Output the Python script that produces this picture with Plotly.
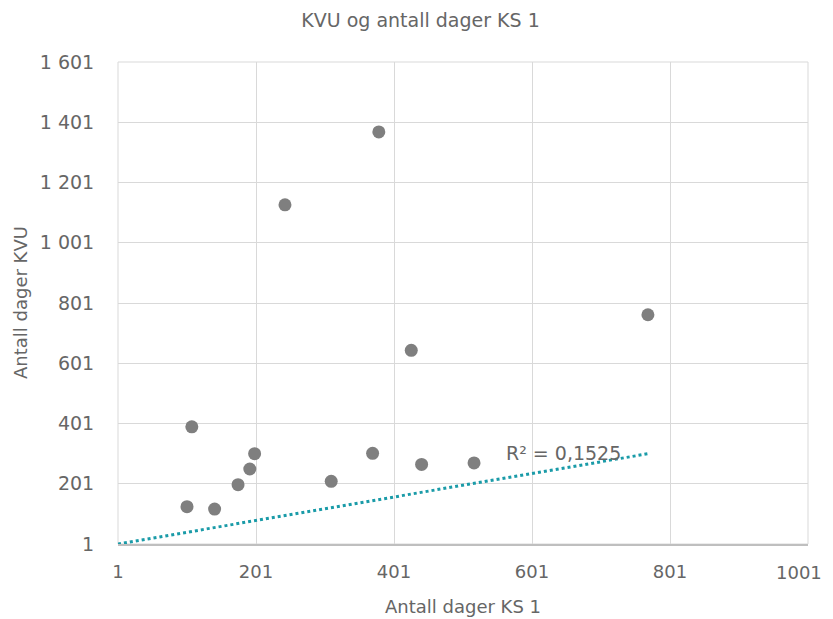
import plotly.graph_objects as go

ks1_days = [101, 108, 141, 175, 192, 199, 243, 310, 370, 379, 426, 441, 517, 769]
kvu_days = [125, 390, 117, 198, 250, 301, 1127, 209, 302, 1369, 644, 265, 270, 762]

trend_x = [1, 770]
trend_y = [1, 301]
r2_label = "R² = 0,1525"

x_ticks = [1, 201, 401, 601, 801, 1001]
x_tick_text = ["1", "201", "401", "601", "801", "1001"]
y_ticks = [1, 201, 401, 601, 801, 1001, 1201, 1401, 1601]
y_tick_text = ["1", "201", "401", "601", "801", "1 001", "1 201", "1 401", "1 601"]

FONT = "DejaVu Sans, sans-serif"
TXT = "#666666"
GRID = "#d9d9d9"
W = 400

fig = go.Figure()
fig.add_trace(go.Scatter(
    x=trend_x, y=trend_y, mode="lines",
    line=dict(color="#1a9ba8", width=3, dash="dot"),
    hoverinfo="skip", showlegend=False,
))
fig.add_trace(go.Scatter(
    x=ks1_days, y=kvu_days, mode="markers",
    marker=dict(color="#7f7f7f", size=13),
    showlegend=False,
))
fig.add_annotation(
    x=561, y=303, text=r2_label, showarrow=False,
    xanchor="left", yanchor="middle",
    font=dict(family=FONT, size=19, color=TXT, weight=W),
)
fig.add_annotation(
    xref="paper", yref="paper", x=0.5, y=0, yshift=-62, text="Antall dager KS 1",
    showarrow=False, xanchor="center", yanchor="middle",
    font=dict(family=FONT, size=18, color=TXT, weight=W),
)
fig.add_annotation(
    xref="paper", yref="paper", x=0, xshift=-98, y=0.5, text="Antall dager KVU",
    showarrow=False, xanchor="center", yanchor="middle", textangle=-90,
    font=dict(family=FONT, size=18, color=TXT, weight=W),
)
# last x tick label kept inside the visible page edge
fig.add_annotation(
    xref="paper", yref="paper", x=1, xshift=16, y=0, yshift=-28,
    text=x_tick_text[-1], showarrow=False, xanchor="right", yanchor="middle",
    font=dict(family=FONT, size=18, color=TXT, weight=W),
)

# page has an 8px body margin: figure drawn at (8, 8)
fig.update_layout(
    width=825, height=611,
    margin=dict(l=110, r=25, t=54, b=75),
    paper_bgcolor="white", plot_bgcolor="white",
    title=dict(text="KVU og antall dager KS 1", x=0.5, xanchor="center",
               y=1 - 12 / 611, yanchor="middle",
               font=dict(family=FONT, size=19, color=TXT, weight=W)),
    font=dict(family=FONT, color=TXT),
    xaxis=dict(
        range=[1, 1001], tickvals=x_ticks, ticktext=x_tick_text[:-1] + [""],
        showgrid=True, gridcolor=GRID, gridwidth=1,
        zeroline=False, showline=True, linecolor="#bfbfbf", linewidth=1.5,
        tickfont=dict(family=FONT, size=18, color=TXT, weight=W),
        ticks="outside", ticklen=11, tickcolor="rgba(0,0,0,0)",
        automargin=False,
    ),
    yaxis=dict(
        range=[1, 1601], tickvals=y_ticks, ticktext=y_tick_text,
        showgrid=True, gridcolor=GRID, gridwidth=1,
        zeroline=False, showline=False,
        tickfont=dict(family=FONT, size=19, color=TXT, weight=W),
        ticks="outside", ticklen=19, tickcolor="rgba(0,0,0,0)",
        automargin=False,
    ),
)
fig.add_shape(type="rect", xref="paper", yref="paper", x0=0, y0=0, x1=1, y1=1,
              line=dict(color=GRID, width=1), layer="below")

fig.write_html("out.html")
